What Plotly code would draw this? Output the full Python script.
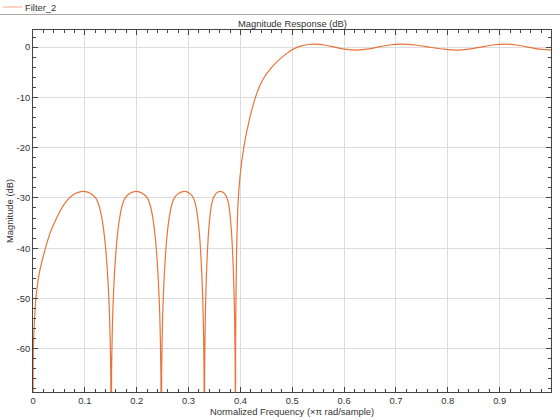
import plotly.graph_objects as go

# Normalized frequency (x pi rad/sample) and magnitude (dB)
freq = [
    # lobe 1
    0.0, 0.0002, 0.0006, 0.0025, 0.0055, 0.0090, 0.0122, 0.0232, 0.0329, 0.0402,
    0.0489, 0.0600, 0.0702, 0.0784, 0.0870, 0.0973,
    0.1053, 0.1134, 0.1208, 0.1267, 0.1321, 0.1358, 0.1385, 0.1412, 0.1438,
    0.1460, 0.1476, 0.1489, 0.1500, 0.1508,
    # lobe 2
    0.1515, 0.1525, 0.1537, 0.1551, 0.1571, 0.1595, 0.1619, 0.1643, 0.1677,
    0.1725, 0.1778, 0.1845, 0.1918, 0.1990,
    0.2063, 0.2135, 0.2203, 0.2256, 0.2305, 0.2338, 0.2363, 0.2387, 0.2411,
    0.2430, 0.2445, 0.2457, 0.2467, 0.2474,
    # lobe 3
    0.2481, 0.2490, 0.2501, 0.2515, 0.2533, 0.2555, 0.2578, 0.2600, 0.2632,
    0.2677, 0.2727, 0.2790, 0.2857, 0.2925,
    0.2982, 0.3039, 0.3092, 0.3134, 0.3172, 0.3199, 0.3218, 0.3237, 0.3256,
    0.3271, 0.3282, 0.3292, 0.3299, 0.3305,
    # lobe 4
    0.3310, 0.3316, 0.3324, 0.3333, 0.3345, 0.3361, 0.3376, 0.3392, 0.3413,
    0.3444, 0.3478, 0.3521, 0.3568, 0.3614,
    0.3658, 0.3701, 0.3742, 0.3774, 0.3803, 0.3823, 0.3837, 0.3852, 0.3866,
    0.3878, 0.3887, 0.3894, 0.3900, 0.3904,
    # transition band
    0.3907, 0.3914, 0.3928, 0.3940, 0.3950, 0.3960, 0.4000, 0.4065, 0.4160,
    0.4290, 0.4370, 0.4460, 0.4560, 0.4660, 0.4770, 0.4890, 0.5000, 0.5100,
    0.5200, 0.5310,
    # passband ripple
    0.5420, 0.5530, 0.5620, 0.5820, 0.6020, 0.6220, 0.6430, 0.6650, 0.6870,
    0.7090, 0.7370, 0.7640, 0.7920, 0.8190, 0.8410, 0.8640, 0.8860, 0.9090,
    0.9320, 0.9550, 0.9770, 0.9990,
]
mag_db = [
    # lobe 1
    -100, -68, -60, -55, -50, -47, -44.9, -40.3, -37.0, -35.2,
    -33.3, -31.3, -30.0, -29.3, -28.9, -28.7,
    -28.84, -29.25, -30.0, -31.3, -33.6, -36.0, -38.3, -41.3, -45.2,
    -49.3, -53.3, -58.5, -65.0, -100,
    # lobe 2
    -65.0, -58.5, -53.3, -49.3, -45.2, -41.3, -38.3, -36.0, -33.6,
    -31.3, -30.0, -29.25, -28.84, -28.7,
    -28.84, -29.25, -30.0, -31.3, -33.6, -36.0, -38.3, -41.3, -45.2,
    -49.3, -53.3, -58.5, -65.0, -100,
    # lobe 3
    -65.0, -58.5, -53.3, -49.3, -45.2, -41.3, -38.3, -36.0, -33.6,
    -31.3, -30.0, -29.25, -28.84, -28.7,
    -28.84, -29.25, -30.0, -31.3, -33.6, -36.0, -38.3, -41.3, -45.2,
    -49.3, -53.3, -58.5, -65.0, -100,
    # lobe 4
    -65.0, -58.5, -53.3, -49.3, -45.2, -41.3, -38.3, -36.0, -33.6,
    -31.3, -30.0, -29.25, -28.84, -28.7,
    -28.84, -29.25, -30.0, -31.3, -33.6, -36.0, -38.3, -41.3, -45.2,
    -49.3, -53.3, -58.5, -65.0, -100,
    # transition band
    -60, -50, -40, -35, -32, -30, -25, -20, -15,
    -10, -7.8, -6.0, -4.6, -3.4, -2.3, -1.3, -0.5, 0.0,
    0.3, 0.52,
    # passband ripple
    0.6, 0.55, 0.42, 0.0, -0.42, -0.6, -0.42, 0.0, 0.42,
    0.6, 0.42, 0.0, -0.42, -0.6, -0.42, 0.0, 0.42, 0.6,
    0.42, 0.0, -0.42, -0.6,
]

x_ticks = [0, 0.1, 0.2, 0.3, 0.4, 0.5, 0.6, 0.7, 0.8, 0.9]
x_tick_text = ["0", "0.1", "0.2", "0.3", "0.4", "0.5", "0.6", "0.7", "0.8", "0.9"]
y_ticks = [0, -10, -20, -30, -40, -50, -60]
y_tick_text = ["0", "-10", "-20", "-30", "-40", "-50", "-60"]

series_name = "Filter_2"
line_color = "#E8743B"
font_family = "Liberation Sans, Arial, sans-serif"
text_color = "#333333"
fs = 9.4

fig = go.Figure()
fig.add_trace(go.Scatter(
    x=freq, y=mag_db, mode="lines", name=series_name,
    line=dict(color=line_color, width=1.2, shape="spline", smoothing=0.4),
    showlegend=False,
))

L, R, T, B = 33, 9, 30, 28
W, H = 560, 420
pw = W - L - R
ph = H - T - B

axis_common = dict(
    showline=True, linecolor="#444444", linewidth=1, mirror="allticks",
    ticks="inside", ticklen=5, tickcolor="#444444", tickwidth=1,
    showgrid=True, gridcolor="#dcdcdc", gridwidth=1, zeroline=False,
    tickfont=dict(family=font_family, size=fs, color=text_color),
    automargin=False,
)

fig.update_layout(
    width=W, height=H,
    margin=dict(l=L, r=R, t=T, b=B),
    paper_bgcolor="white", plot_bgcolor="white",
    font=dict(family=font_family, size=fs, color=text_color),
    xaxis=dict(
        range=[0, 0.999], tickvals=x_ticks, ticktext=x_tick_text,
        minor=dict(ticks="inside", dtick=0.02, tick0=0, ticklen=3,
                   tickcolor="#444444", showgrid=False),
        **axis_common,
    ),
    yaxis=dict(
        range=[-68.6, 3.4], tickvals=y_ticks, ticktext=y_tick_text,
        minor=dict(ticks="inside", dtick=2, tick0=0, ticklen=3,
                   tickcolor="#444444", showgrid=False),
        **axis_common,
    ),
    showlegend=False,
)

def px_x(p):
    return (p - L) / pw

def px_y(p):
    return (H - B - p) / ph

# Title and axis titles
fig.add_annotation(
    text="Magnitude Response (dB)", xref="paper", yref="paper",
    x=0.5, y=px_y(23), xanchor="center", yanchor="middle",
    showarrow=False, font=dict(family=font_family, size=fs, color=text_color),
)
fig.add_annotation(
    text="Normalized Frequency (×π rad/sample)", xref="paper", yref="paper",
    x=0.5, y=px_y(411), xanchor="center", yanchor="middle",
    showarrow=False, font=dict(family=font_family, size=fs, color=text_color),
)
fig.add_annotation(
    text="Magnitude (dB)", xref="paper", yref="paper",
    x=px_x(9), y=0.5, xanchor="center", yanchor="middle", textangle=-90,
    showarrow=False, font=dict(family=font_family, size=fs, color=text_color),
)

# Legend strip (line sample, label and separator)
fig.add_shape(type="line", xref="paper", yref="paper",
              x0=px_x(3), x1=px_x(22), y0=px_y(7), y1=px_y(7),
              line=dict(color=line_color, width=1), opacity=0.6)
fig.add_annotation(
    text=series_name, xref="paper", yref="paper",
    x=px_x(23), y=px_y(7), xanchor="left", yanchor="middle",
    showarrow=False, font=dict(family=font_family, size=fs, color=text_color),
)
fig.add_shape(type="line", xref="paper", yref="paper",
              x0=px_x(0), x1=px_x(W), y0=px_y(14.5), y1=px_y(14.5),
              line=dict(color="#aaaaaa", width=1))

fig.write_html(
    "out.html",
    config={"displayModeBar": False},
    post_script="document.body.style.margin='0';document.body.style.overflow='hidden';",
)
